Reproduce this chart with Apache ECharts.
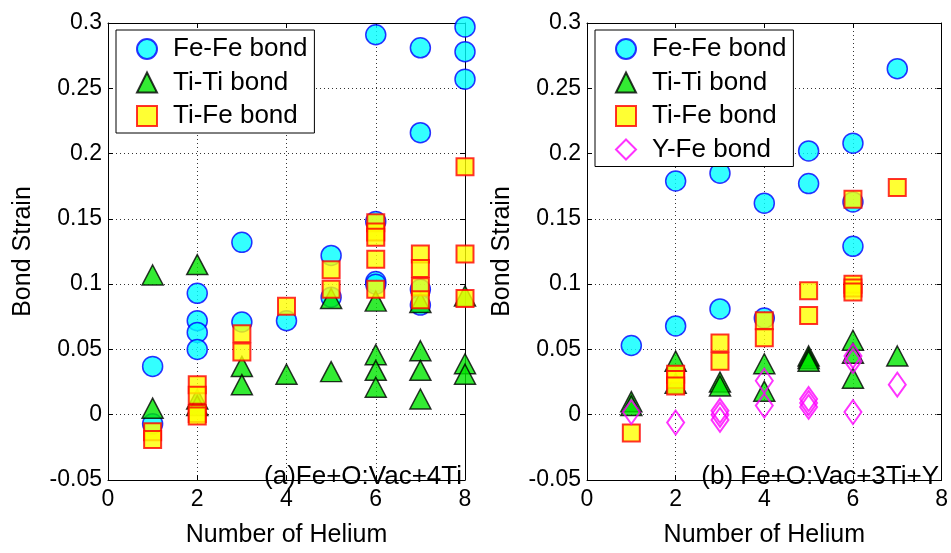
<!DOCTYPE html>
<html>
<head>
<meta charset="utf-8">
<script src="https://cdn.jsdelivr.net/npm/echarts@6/dist/echarts.min.js"></script>
<style>html,body{margin:0;padding:0;background:#fff;}#c{width:951px;height:553px;}</style>
</head>
<body>
<div id="c"></div>
<script>
// ---- data (x = number of helium, y = bond strain) ----
const xTicks = [0, 2, 4, 6, 8];
const yTicks = [-0.05, 0, 0.05, 0.1, 0.15, 0.2, 0.25, 0.3];
const seriesNames = ['Fe-Fe bond', 'Ti-Ti bond', 'Ti-Fe bond', 'Y-Fe bond'];
const panelLabels = ['(a)Fe+O:Vac+4Ti', '(b) Fe+O:Vac+3Ti+Y'];
const xName = 'Number of Helium';
const yName = 'Bond Strain';

const leftFeFe = [[1,0.037],[1,-0.007],[2,0.093],[2,0.072],[2,0.063],[2,0.050],[3,0.132],[3,0.071],[4,0.072],
  [5,0.122],[5,0.090],[6,0.291],[6,0.148],[6,0.102],[6,0.100],[7,0.281],[7,0.216],[7,0.096],[7,0.084],
  [8,0.297],[8,0.278],[8,0.257]];
const leftTiTi = [[1,0.107],[1,0.005],[2,0.115],[2,0.012],[2,0.007],[3,0.037],[3,0.023],[4,0.031],[5,0.089],[5,0.033],
  [6,0.087],[6,0.046],[6,0.034],[6,0.021],[7,0.086],[7,0.049],[7,0.034],[7,0.012],[8,0.091],[8,0.039],[8,0.031]];
const leftTiFe = [[1,-0.013],[1,-0.019],[2,0.023],[2,0.015],[2,0.001],[2,-0.001],[3,0.062],[3,0.048],[4,0.083],
  [5,0.111],[5,0.096],[6,0.147],[6,0.140],[6,0.136],[6,0.119],[6,0.096],[7,0.123],[7,0.112],[7,0.098],[7,0.088],
  [8,0.190],[8,0.123],[8,0.089]];

const rightFeFe = [[1,0.053],[2,0.179],[2,0.068],[3,0.185],[3,0.081],[4,0.162],[4,0.074],[5,0.202],[5,0.177],
  [6,0.208],[6,0.163],[6,0.129],[7,0.265]];
const rightTiTi = [[1,0.010],[1,0.007],[2,0.041],[2,0.024],[3,0.025],[3,0.022],[4,0.039],[4,0.018],[5,0.045],[5,0.043],[5,0.041],
  [6,0.057],[6,0.047],[6,0.028],[7,0.045]];
const rightTiFe = [[1,-0.014],[2,0.031],[2,0.027],[2,0.022],[3,0.055],[3,0.041],[4,0.072],[4,0.059],[5,0.095],[5,0.076],
  [6,0.165],[6,0.100],[6,0.097],[6,0.094],[7,0.174]];
const rightYFe = [[1,0.002],[2,-0.006],[3,0.003],[3,0.000],[3,-0.004],[4,0.026],[4,0.007],[5,0.012],[5,0.009],[5,0.006],
  [6,0.045],[6,0.041],[6,0.002],[7,0.023]];

// ---- styles ----
const FONT = "'Liberation Sans', Arial, sans-serif";
const styles = [
  { symbol: 'circle', symbolSize: 20, itemStyle: { color: '#00ffff', borderColor: '#0000ff', borderWidth: 1.5 } },
  { symbol: 'triangle', symbolSize: [21, 20], itemStyle: { color: '#00e600', borderColor: '#000000', borderWidth: 1.5 } },
  { symbol: 'rect', symbolSize: 17, itemStyle: { color: '#ffff00', borderColor: '#ff0000', borderWidth: 2 } },
  { symbol: 'diamond', symbolSize: [17, 24], itemStyle: { color: 'rgba(255,255,255,0)', borderColor: '#ff00ff', borderWidth: 2 } }
];

const xMin = xTicks[0], xMax = xTicks[xTicks.length - 1], xInt = xTicks[1] - xTicks[0];
const yMin = yTicks[0], yMax = yTicks[yTicks.length - 1], yInt = 0.05;

function mainX(g) {
  return {
    type: 'value', gridIndex: g, min: xMin, max: xMax, interval: xInt, position: 'bottom',
    name: xName, nameLocation: 'middle', nameGap: 43,
    nameTextStyle: { fontFamily: FONT, fontSize: 25, color: '#000' },
    axisLine: { onZero: false, lineStyle: { color: '#000', width: 1 } },
    axisTick: { inside: true, length: 5, lineStyle: { color: '#000' } },
    axisLabel: { fontFamily: FONT, fontSize: 23, color: '#000', margin: 8 },
    splitLine: { show: true, lineStyle: { color: '#333', width: 1, type: [1, 3] } }
  };
}
function topX(g) {
  return {
    type: 'value', gridIndex: g, min: xMin, max: xMax, interval: xInt, position: 'top',
    axisLine: { onZero: false, lineStyle: { color: '#000', width: 1 } },
    axisTick: { inside: true, length: 5, lineStyle: { color: '#000' } },
    axisLabel: { show: false }, splitLine: { show: false }
  };
}
function mainY(g) {
  return {
    type: 'value', gridIndex: g, min: yMin, max: yMax, interval: yInt, position: 'left',
    name: yName, nameLocation: 'middle', nameGap: 72, nameRotate: 90,
    nameTextStyle: { fontFamily: FONT, fontSize: 25, color: '#000' },
    axisLine: { onZero: false, show: true, lineStyle: { color: '#000', width: 1 } },
    axisTick: { show: true, inside: true, length: 5, lineStyle: { color: '#000' } },
    axisLabel: { fontFamily: FONT, fontSize: 23, color: '#000', margin: 6 },
    splitLine: { show: true, lineStyle: { color: '#333', width: 1, type: [1, 3] } }
  };
}
function rightY(g) {
  return {
    type: 'value', gridIndex: g, min: yMin, max: yMax, interval: yInt, position: 'right',
    axisLine: { onZero: false, show: true, lineStyle: { color: '#000', width: 1 } },
    axisTick: { show: true, inside: true, length: 5, lineStyle: { color: '#000' } },
    axisLabel: { show: false }, splitLine: { show: false }
  };
}

function mk(name, data, styleIdx, xi, yi) {
  const s = styles[styleIdx];
  return {
    type: 'scatter', name: name, data: data, xAxisIndex: xi, yAxisIndex: yi,
    symbol: s.symbol, symbolSize: s.symbolSize, itemStyle: s.itemStyle,
    emphasis: { disabled: true }, animation: false
  };
}

function legendOf(names, left) {
  return {
    orient: 'vertical', left: left, top: 30, data: names,
    backgroundColor: '#fff', borderColor: '#000', borderWidth: 1,
    padding: [6, 7, 4, 20], itemGap: 7.5, itemWidth: 20, itemHeight: 20,
    textStyle: { fontFamily: FONT, fontSize: 26, color: '#000', padding: [0, 0, 0, 11] },
    selectedMode: false
  };
}

const option = {
  backgroundColor: '#fff',
  animation: false,
  grid: [
    { left: 108, top: 23, width: 357, height: 470, show: false },
    { left: 587, top: 23, width: 356, height: 470, show: false }
  ],
  xAxis: [mainX(0), topX(0), mainX(1), topX(1)],
  yAxis: [mainY(0), rightY(0), mainY(1), rightY(1)],
  legend: [legendOf(seriesNames.slice(0, 3), 116), legendOf(seriesNames, 595)],
  title: [
    { text: panelLabels[0], right: 489, top: 464, padding: 0,
      textStyle: { fontFamily: FONT, fontSize: 26, fontWeight: 'normal', color: '#000' } },
    { text: panelLabels[1], right: 12, top: 464, padding: 0,
      textStyle: { fontFamily: FONT, fontSize: 26, fontWeight: 'normal', color: '#000' } }
  ],
  series: [
    mk(seriesNames[0], leftFeFe, 0, 0, 0),
    mk(seriesNames[1], leftTiTi, 1, 0, 0),
    mk(seriesNames[2], leftTiFe, 2, 0, 0),
    mk(seriesNames[0], rightFeFe, 0, 2, 2),
    mk(seriesNames[1], rightTiTi, 1, 2, 2),
    mk(seriesNames[2], rightTiFe, 2, 2, 2),
    mk(seriesNames[3], rightYFe, 3, 2, 2)
  ]
};

const chart = echarts.init(document.getElementById('c'), null, { renderer: 'canvas' });
chart.setOption(option);
</script>
</body>
</html>
